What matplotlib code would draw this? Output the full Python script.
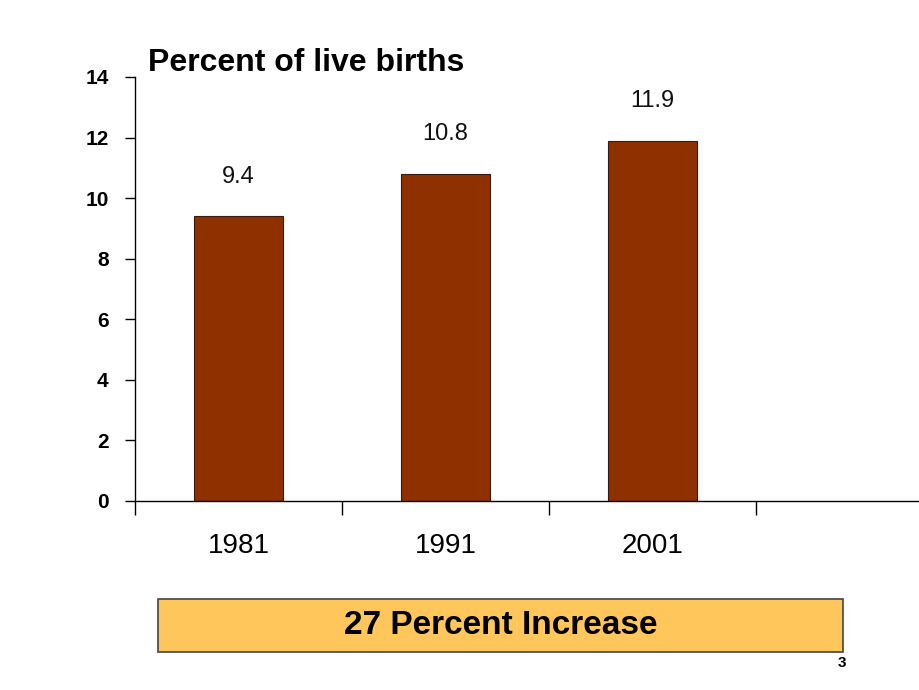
import matplotlib.pyplot as plt
from matplotlib import font_manager
from matplotlib.patches import Rectangle

years = ['1981', '1991', '2001']
values = [9.4, 10.8, 11.9]
yticks = [0, 2, 4, 6, 8, 10, 12, 14]

# narrow font for the banner, if there is one
names = {f.name for f in font_manager.fontManager.ttflist}
narrow = 'Liberation Sans Narrow' if 'Liberation Sans Narrow' in names else 'Liberation Sans'

plt.rcParams['font.family'] = ['Liberation Sans', 'DejaVu Sans']

fig = plt.figure(figsize=(9.2, 6.9), dpi=100)
ax = fig.add_axes([135 / 920, 1 - 501 / 690, 1 - 135 / 920, (501 - 77) / 690])

x = list(range(len(years)))
ax.bar(x, values, width=0.43, color='#8E3000', edgecolor='#3a1a10', linewidth=0.8)

for xi, v in zip(x, values):
    ax.text(xi, v + 0.95, f'{v}', ha='center', va='bottom', fontsize=17, color='#111111')

ax.set_xlim(-0.5, 3.29)
ax.set_ylim(0, 14)
ax.set_yticks(yticks)
ax.set_yticklabels([str(t) for t in yticks], fontsize=15, fontweight='bold')
ax.tick_params(axis='y', length=7, width=1, pad=12, direction='out')

# category separators as major ticks, year labels as minor ticks
ax.set_xticks([-0.5, 0.5, 1.5, 2.5], minor=False)
ax.set_xticklabels([])
ax.tick_params(axis='x', length=10, width=1, direction='out')
ax.set_xticks(x, minor=True)
ax.set_xticklabels(years, minor=True, fontsize=20)
ax.tick_params(axis='x', which='minor', length=0, pad=23)

for s in ['top', 'right']:
    ax.spines[s].set_visible(False)
ax.spines['left'].set_linewidth(1)
ax.spines['bottom'].set_linewidth(1)

fig.text(148 / 920, 1 - 63 / 690, 'Percent of live births', fontsize=23,
         fontweight='bold', ha='left', va='center')

# banner below the chart
fig.patches.append(Rectangle((158 / 920, 1 - 652 / 690), (843 - 158) / 920, (652 - 599) / 690,
                             transform=fig.transFigure, facecolor='#FFC65C',
                             edgecolor='#444444', linewidth=1.2))
fig.text(501 / 920, 1 - 625 / 690, '27 Percent Increase', fontsize=24, fontweight='bold',
         family=narrow, ha='center', va='center')
fig.text(842 / 920, 1 - 663 / 690, '3', fontsize=11, fontweight='bold', ha='center', va='center')

fig.savefig('out.png', dpi=100)
